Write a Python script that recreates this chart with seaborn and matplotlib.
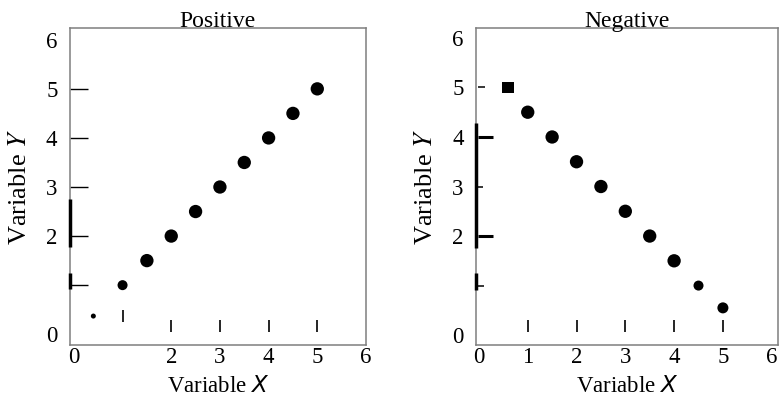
import numpy as np
import pandas as pd
import matplotlib
matplotlib.use("Agg")
import matplotlib.pyplot as plt
import seaborn as sns

# ===== DATA =====

pos_x = [0.4, 1.0, 1.5, 2.0, 2.5, 3.0, 3.5, 4.0, 4.5, 5.0]
pos_y = [0.37, 1.0, 1.5, 2.0, 2.5, 3.0, 3.5, 4.0, 4.5, 5.0]
pos_size = [13, 52, 92, 92, 92, 92, 92, 92, 92, 92]

neg_x = [1.0, 1.5, 2.0, 2.5, 3.0, 3.5, 4.0, 4.5, 5.0]
neg_y = [4.5, 4.0, 3.5, 3.0, 2.5, 2.0, 1.5, 1.0, 0.55]
neg_size = [92, 92, 92, 92, 92, 92, 92, 52, 63]
neg_square_x = [0.6]
neg_square_y = [5.0]

# stray tick marks inside the frame
pos_htick_y = [1, 2, 3, 4, 5]
pos_htick_end = [0.29, 0.29, 0.29, 0.29, 0.29]
pos_vtick_x = [1, 2, 3, 4, 5]
pos_vtick_lo = [0.24, 0.04, 0.04, 0.04, 0.04]
pos_vtick_hi = [0.49, 0.29, 0.29, 0.29, 0.29]
pos_spine_lo = [1.78, 0.92]
pos_spine_hi = [2.75, 1.24]

neg_htick_y = [5, 4, 3, 2, 1]
neg_htick_end = [0.12, 0.29, 0.08, 0.29, 0.10]
neg_htick_lw = [1.1, 2.2, 1.1, 2.2, 1.1]
neg_vtick_x = [1, 2, 3, 4, 5]
neg_vtick_lo = [0.06, 0.06, 0.06, 0.06, 0.06]
neg_vtick_hi = [0.30, 0.30, 0.30, 0.30, 0.30]
neg_spine_lo = [1.76, 0.91]
neg_spine_hi = [4.28, 1.25]

pos_xticklabels = [0, 2, 3, 4, 5, 6]
pos_yticklabels = [0, 2, 3, 4, 5, 6]
neg_xticklabels = [0, 1, 2, 3, 4, 5, 6]
neg_yticklabels = [0, 2, 3, 4, 5, 6]

df_pos = pd.DataFrame({'x': pos_x, 'y': pos_y, 's': pos_size})
df_neg = pd.DataFrame({'x': neg_x, 'y': neg_y, 's': neg_size})

sns.set_style("white")
plt.rcParams['font.family'] = ['Liberation Serif', 'DejaVu Serif']

fig = plt.figure(figsize=(7.81, 3.99), dpi=100)
ax1 = fig.add_axes([0.0896, 0.1353, 0.3790, 0.7945])
ax2 = fig.add_axes([0.6095, 0.1353, 0.3867, 0.7945])


def style_axes(ax, xlim, ylim, xt, yt, title):
    ax.set_xlim(*xlim)
    ax.set_ylim(*ylim)
    ax.set_xticks(xt)
    ax.set_yticks(yt)
    ax.set_xticklabels([str(v) for v in xt])
    ax.set_yticklabels([str(v) for v in yt])
    ax.tick_params(axis='both', length=0, labelsize=16.5, colors='black')
    ax.tick_params(axis='y', pad=9)
    ax.tick_params(axis='x', pad=1.5)
    for sp in ax.spines.values():
        sp.set_color('#7f7f7f')
        sp.set_linewidth(1.1)
        sp.set_visible(True)
    ax.set_title(title, fontsize=17, pad=0.5, color='black')
    ax.set_xlabel("Variable $X$", fontsize=16.5, math_fontfamily='dejavusans', color='black')
    ax.set_ylabel("Variable $Y$", fontsize=19, math_fontfamily='stix', color='black')
    ax.xaxis.set_label_coords(0.5, -0.098)
    ax.yaxis.set_label_coords(-0.13, 0.5)


# ===== POSITIVE =====
sns.scatterplot(data=df_pos, x='x', y='y', size='s', sizes=(13, 92), size_norm=(13, 92),
                color='black', edgecolor='none', legend=False, ax=ax1, zorder=3)
ax1.hlines(pos_htick_y, -0.08, pos_htick_end, color='black', lw=1.0)
ax1.vlines(pos_vtick_x, pos_vtick_lo, pos_vtick_hi, color='black', lw=1.2)
ax1.vlines([-0.08] * len(pos_spine_lo), pos_spine_lo, pos_spine_hi, color='black', lw=2.5,
           clip_on=False, zorder=4)
style_axes(ax1, (-0.08, 5.96), (-0.22, 6.24), pos_xticklabels, pos_yticklabels, 'Positive')

# ===== NEGATIVE =====
sns.scatterplot(data=df_neg, x='x', y='y', size='s', sizes=(52, 92), size_norm=(52, 92),
                color='black', edgecolor='none', legend=False, ax=ax2, zorder=3)
sns.scatterplot(x=neg_square_x, y=neg_square_y, marker='s', s=72, color='black',
                edgecolor='none', legend=False, ax=ax2, zorder=3)
for yv, xe, lw in zip(neg_htick_y, neg_htick_end, neg_htick_lw):
    ax2.hlines(yv, -0.02, xe, color='black', lw=lw)
ax2.vlines(neg_vtick_x, neg_vtick_lo, neg_vtick_hi, color='black', lw=1.2)
ax2.vlines([-0.06] * len(neg_spine_lo), neg_spine_lo, neg_spine_hi, color='black', lw=2.5,
           clip_on=False, zorder=4)
style_axes(ax2, (-0.06, 6.13), (-0.2, 6.2), neg_xticklabels, neg_yticklabels, 'Negative')

plt.savefig("out.png", dpi=100)
